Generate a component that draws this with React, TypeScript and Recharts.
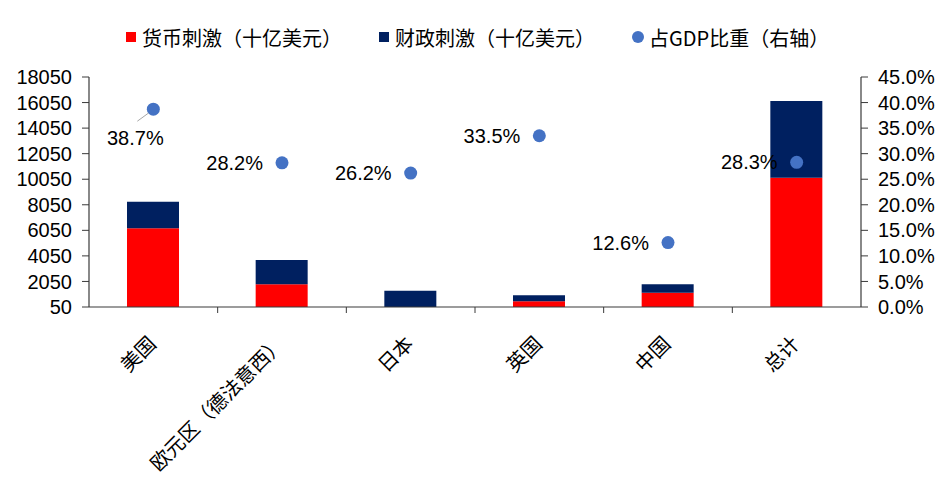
import { ComposedChart, Bar, Scatter, XAxis, YAxis } from 'recharts';

// 各经济体刺激规模（十亿美元）与占GDP比重
const categories = ['美国', '欧元区（德法意西）', '日本', '英国', '中国', '总计'];
const monetary = [6210, 1830, 0, 500, 1170, 10170];
const fiscal = [2080, 1900, 1320, 470, 660, 6000];
const gdpShare = [38.7, 28.2, 26.2, 33.5, 12.6, 28.3];

const leftTicks = [50, 2050, 4050, 6050, 8050, 10050, 12050, 14050, 16050, 18050];
const rightTicks = [0, 5, 10, 15, 20, 25, 30, 35, 40, 45];

const RED = '#FF0000';
const NAVY = '#002060';
const BLUE = '#4472C4';
const AXIS = '#3a3a3a';
const FONT = '"Liberation Sans", Arial, "Noto Sans CJK SC", sans-serif';
const CJK = '"Noto Sans CJK SC", "Liberation Sans", sans-serif';

const W = 950;
const H = 487;
const LEFT_W = 89;
const RIGHT_W = 89;
const BAND = (W - LEFT_W - RIGHT_W) / categories.length;

const data = categories.map((name, i) => ({
    name,
    monetary: monetary[i],
    fiscal: fiscal[i],
    share: gdpShare[i],
}));

// x 轴：刻度线画在类别之间，标签旋转 -45°
function CategoryTick(props: any) {
    const { x, y, payload, index } = props;
    return (
        <g>
            {index > 0 && (
                <line x1={x - BAND / 2} x2={x - BAND / 2} y1={y} y2={y + 6} stroke={AXIS} strokeWidth={1} />
            )}
            <text
                x={x + 4}
                y={y + 38}
                textAnchor="end"
                transform={`rotate(-45, ${x + 4}, ${y + 38})`}
                fontSize={20}
                fill="#000"
                fontFamily={CJK}
            >
                {payload.value}
            </text>
        </g>
    );
}

// 散点 + 数据标签（美国的标签放在左下方并带引导线）
function ShareDot(props: any) {
    const { cx, cy, payload } = props;
    const label = `${payload.share.toFixed(1)}%`;
    const below = payload.name === '美国';
    return (
        <g>
            <circle cx={cx} cy={cy} r={6.5} fill={BLUE} />
            {below ? (
                <>
                    <line x1={cx - 16} y1={cy + 12} x2={cx - 5} y2={cy + 4} stroke="#a6a6a6" strokeWidth={1} />
                    <text x={cx - 18} y={cy + 29} textAnchor="middle" dominantBaseline="central" fontSize={20} fill="#000" fontFamily={FONT}>
                        {label}
                    </text>
                </>
            ) : (
                <text x={cx - 19} y={cy} textAnchor="end" dominantBaseline="central" fontSize={20} fill="#000" fontFamily={FONT}>
                    {label}
                </text>
            )}
        </g>
    );
}

function LegendBar() {
    const items = [
        { label: '货币刺激（十亿美元）', color: RED, type: 'square', left: 126 },
        { label: '财政刺激（十亿美元）', color: NAVY, type: 'square', left: 379 },
        { label: '占GDP比重（右轴）', color: BLUE, type: 'circle', left: 632 },
    ];
    return (
        <>
            {items.map((it) => (
                <div
                    key={it.label}
                    style={{
                        position: 'absolute',
                        left: it.left,
                        top: 24,
                        height: 26,
                        display: 'flex',
                        alignItems: 'center',
                        fontFamily: CJK,
                        fontSize: 20,
                        color: '#000',
                        whiteSpace: 'nowrap',
                    }}
                >
                    <span
                        style={{
                            display: 'inline-block',
                            width: it.type === 'circle' ? 12 : 10,
                            height: it.type === 'circle' ? 12 : 10,
                            borderRadius: it.type === 'circle' ? '50%' : 0,
                            background: it.color,
                            marginRight: it.type === 'circle' ? 5 : 6,
                        }}
                    />
                    {it.label}
                </div>
            ))}
        </>
    );
}

export default function App() {
    return (
        <div style={{ position: 'absolute', left: 0, top: 0, width: W, height: H, background: '#fff', fontFamily: FONT }}>
            <LegendBar />
            <ComposedChart width={W} height={H} data={data} margin={{ top: 77, right: 0, bottom: 0, left: 0 }}>
                <XAxis
                    dataKey="name"
                    height={180}
                    interval={0}
                    tickLine={false}
                    tickSize={0}
                    tickMargin={0}
                    axisLine={{ stroke: AXIS, strokeWidth: 1.2 }}
                    tick={<CategoryTick />}
                />
                <YAxis
                    yAxisId="left"
                    orientation="left"
                    width={LEFT_W}
                    domain={[50, 18050]}
                    ticks={leftTicks}
                    allowDataOverflow
                    interval={0}
                    tickSize={7}
                    tickMargin={10}
                    axisLine={{ stroke: AXIS, strokeWidth: 1.2 }}
                    tickLine={{ stroke: AXIS }}
                    tick={{ fontSize: 20, fill: '#000', fontFamily: FONT }}
                />
                <YAxis
                    yAxisId="right"
                    orientation="right"
                    width={RIGHT_W}
                    domain={[0, 45]}
                    ticks={rightTicks}
                    interval={0}
                    tickSize={7}
                    tickMargin={10}
                    tickFormatter={(v: number) => `${v.toFixed(1)}%`}
                    axisLine={{ stroke: AXIS, strokeWidth: 1.2 }}
                    tickLine={{ stroke: AXIS }}
                    tick={{ fontSize: 20, fill: '#000', fontFamily: FONT, textAnchor: 'start' }}
                />
                <Bar yAxisId="left" dataKey="monetary" stackId="s" fill={RED} barSize={52} isAnimationActive={false} />
                <Bar yAxisId="left" dataKey="fiscal" stackId="s" fill={NAVY} barSize={52} isAnimationActive={false} />
                <Scatter yAxisId="right" dataKey="share" shape={<ShareDot />} isAnimationActive={false} />
            </ComposedChart>
        </div>
    );
}
